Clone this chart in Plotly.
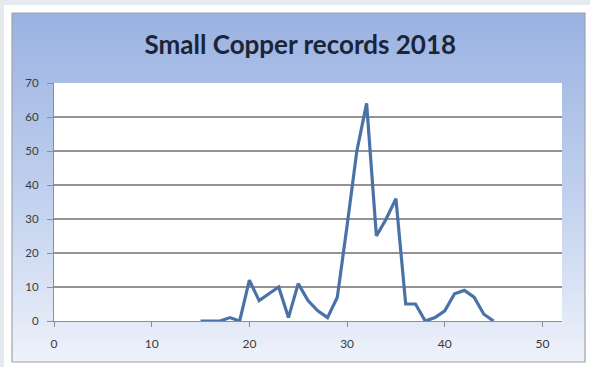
import base64
import plotly.graph_objects as go

# Data
weeks = list(range(15, 46))
records = [0, 0, 0, 1, 0, 12, 6, 8, 10, 1, 11, 6, 3, 1, 7, 28, 50, 64, 25, 30, 36, 5, 5, 0, 1, 3, 8, 9, 7, 2, 0]
x_ticks = [0, 10, 20, 30, 40, 50]
y_ticks = [0, 10, 20, 30, 40, 50, 60, 70]
title_text = "Small Copper records 2018"

W, H = 590, 367
L, R, T, B = 54, 562, 83, 321  # plot area in pixels

svg = (
    '<svg xmlns="http://www.w3.org/2000/svg" width="100" height="100" preserveAspectRatio="none">'
    '<defs><linearGradient id="g" x1="0" y1="0" x2="0" y2="1">'
    '<stop offset="0" stop-color="#9ab2e2"/>'
    '<stop offset="0.55" stop-color="#c3d2ee"/>'
    '<stop offset="1" stop-color="#eef2fa"/>'
    '</linearGradient></defs>'
    '<rect width="100" height="100" fill="url(#g)"/></svg>'
)
svg_uri = "data:image/svg+xml;base64," + base64.b64encode(svg.encode()).decode()

fig = go.Figure()
fig.add_trace(go.Scatter(
    x=weeks, y=records, mode="lines",
    line=dict(color="#4a72a6", width=3.2),
    hoverinfo="x+y",
))

def px(x):
    return (x - L) / (R - L)

def py(y):
    return (B - y) / (B - T)

fig.update_layout(
    width=W, height=H,
    margin=dict(l=L, r=W - R, t=T, b=H - B),
    paper_bgcolor="white",
    plot_bgcolor="rgba(0,0,0,0)",
    showlegend=False,
    title=dict(
        text=title_text,
        x=0.509, xanchor="center",
        y=1 - 45 / H, yanchor="middle",
        font=dict(family="Lato", size=26, color="#1c2437", weight="bold"),
    ),
    images=[dict(
        source=svg_uri, xref="paper", yref="paper",
        x=px(12), y=py(13), sizex=px(585) - px(12), sizey=py(13) - py(362),
        xanchor="left", yanchor="top", sizing="stretch", layer="below",
    )],
    shapes=[
        dict(type="rect", xref="paper", yref="paper", x0=px(0), x1=px(W), y0=py(5), y1=py(0),
             fillcolor="#e4eaee", line=dict(width=0), layer="below"),
        dict(type="rect", xref="paper", yref="paper", x0=px(0), x1=px(4), y0=py(H), y1=py(0),
             fillcolor="#e4eaee", line=dict(width=0), layer="below"),
        dict(type="rect", xref="paper", yref="paper", x0=0, x1=1, y0=0, y1=1,
             fillcolor="white", line=dict(width=0), layer="below"),
        dict(type="rect", xref="paper", yref="paper", x0=px(12), x1=px(585), y0=py(362), y1=py(13),
             fillcolor="rgba(0,0,0,0)", line=dict(color="#9ea4ac", width=1.2), layer="above"),
    ],
    xaxis=dict(
        range=[0, 52], tickvals=x_ticks, showgrid=False, zeroline=False,
        showline=True, linecolor="#8a8f96", linewidth=1.2,
        ticks="outside", ticklen=5, tickcolor="#8a8f96",
        ticklabelstandoff=6,
        tickfont=dict(family="Lato", size=12, color="#3a3a3a"),
        fixedrange=True,
    ),
    yaxis=dict(
        range=[0, 70], tickvals=y_ticks, showgrid=True, gridcolor="#939393", gridwidth=1.6,
        zeroline=False, showline=True, linecolor="#8a8f96", linewidth=1.2,
        ticks="outside", ticklen=6, tickcolor="#8a8f96",
        ticklabelstandoff=6,
        tickfont=dict(family="Lato", size=11.5, color="#3a3a3a"),
        fixedrange=True,
    ),
)

fig.write_html("out.html")
